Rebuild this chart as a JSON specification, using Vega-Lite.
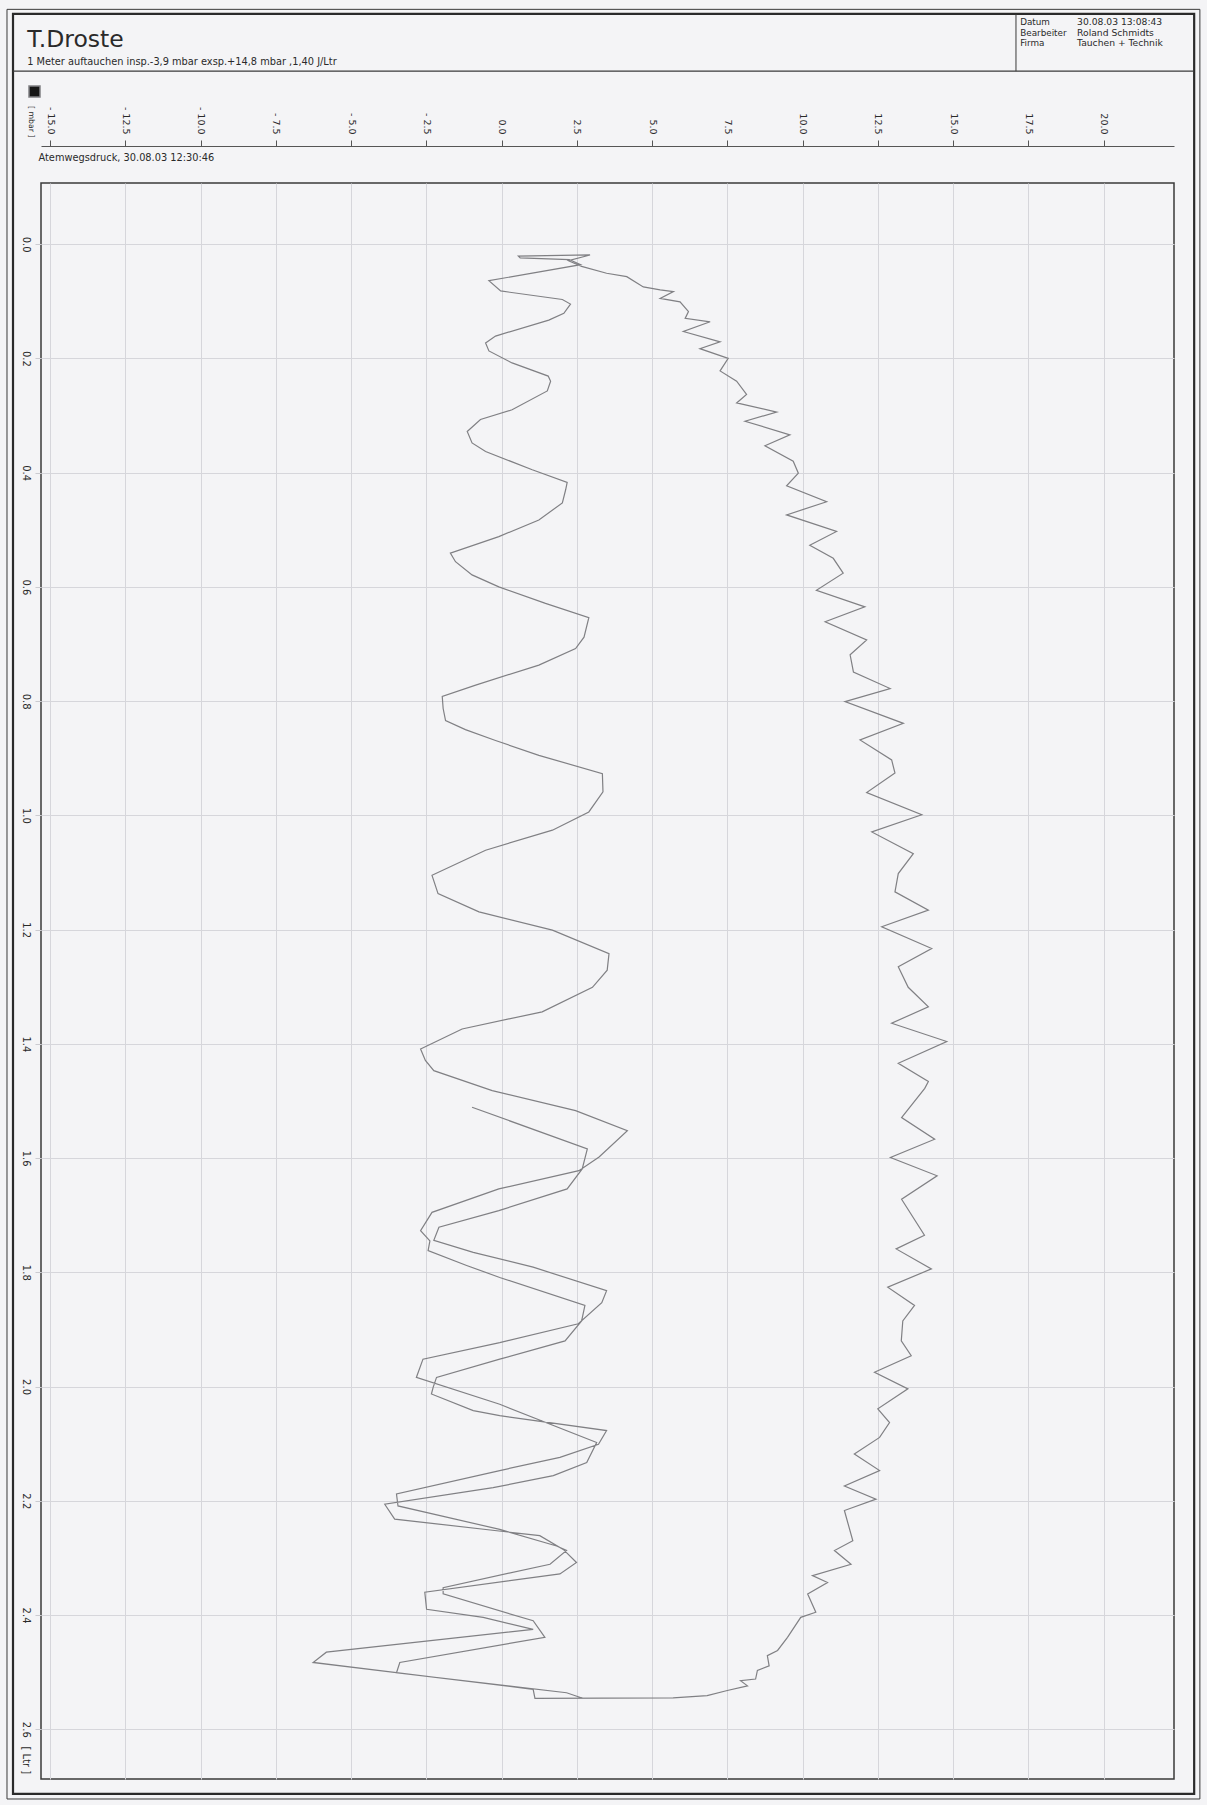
{
  "$schema": "https://vega.github.io/schema/vega-lite/v6.json",
  "width": 1133,
  "height": 1596,
  "autosize": {"type": "none"},
  "padding": {"left": 41, "top": 183, "right": 33, "bottom": 26},
  "background": "#f4f4f6",
  "config": {
    "font": "DejaVu Sans",
    "view": {"stroke": "#3a3a3a", "strokeWidth": 1.5},
    "text": {"color": "#2a2a2a", "font": "DejaVu Sans"}
  },
  "datasets": {
    "kurve": [
      {"o":1,"p":-0.98,"v":1.511},{"o":2,"p":2.85,"v":1.584},{"o":3,"p":2.68,"v":1.619},{"o":4,"p":2.18,"v":1.654},{"o":5,"p":-0.09,"v":1.692},{"o":6,"p":-2.08,"v":1.721},{"o":7,"p":-2.25,"v":1.744},{"o":8,"p":-0.94,"v":1.765},{"o":9,"p":1.05,"v":1.791},{"o":10,"p":3.49,"v":1.832},
      {"o":11,"p":3.33,"v":1.853},{"o":12,"p":2.55,"v":1.890},{"o":13,"p":-0.06,"v":1.923},{"o":14,"p":-2.61,"v":1.952},{"o":15,"p":-2.83,"v":1.984},{"o":16,"p":-0.06,"v":2.031},{"o":17,"p":3.16,"v":2.098},{"o":18,"p":2.83,"v":2.133},{"o":19,"p":1.72,"v":2.156},{"o":20,"p":-0.28,"v":2.177},
      {"o":21,"p":-3.88,"v":2.206},{"o":22,"p":-3.55,"v":2.232},{"o":23,"p":1.27,"v":2.261},{"o":24,"p":2.05,"v":2.285},{"o":25,"p":2.49,"v":2.308},{"o":26,"p":1.94,"v":2.328},{"o":27,"p":-2.55,"v":2.360},{"o":28,"p":-2.49,"v":2.390},{"o":29,"p":-0.61,"v":2.404},{"o":30,"p":1.05,"v":2.425},
      {"o":31,"p":-5.82,"v":2.465},{"o":32,"p":-6.26,"v":2.483},{"o":33,"p":1.05,"v":2.530},{"o":34,"p":1.11,"v":2.546},{"o":35,"p":5.70,"v":2.545},{"o":36,"p":6.83,"v":2.541},{"o":37,"p":7.50,"v":2.532},{"o":38,"p":8.17,"v":2.524},{"o":39,"p":7.94,"v":2.515},{"o":40,"p":8.44,"v":2.512},
      {"o":41,"p":8.50,"v":2.497},{"o":42,"p":8.89,"v":2.489},{"o":43,"p":8.83,"v":2.471},{"o":44,"p":9.17,"v":2.462},{"o":45,"p":9.50,"v":2.439},{"o":46,"p":9.94,"v":2.404},{"o":47,"p":10.44,"v":2.395},{"o":48,"p":10.17,"v":2.363},{"o":49,"p":10.83,"v":2.343},{"o":50,"p":10.33,"v":2.331},
      {"o":51,"p":11.61,"v":2.311},{"o":52,"p":11.06,"v":2.287},{"o":53,"p":11.67,"v":2.270},{"o":54,"p":11.39,"v":2.217},{"o":55,"p":12.44,"v":2.197},{"o":56,"p":11.39,"v":2.174},{"o":57,"p":12.56,"v":2.147},{"o":58,"p":11.72,"v":2.118},{"o":59,"p":12.56,"v":2.089},{"o":60,"p":12.89,"v":2.063},
      {"o":61,"p":12.50,"v":2.039},{"o":62,"p":13.50,"v":2.004},{"o":63,"p":12.39,"v":1.975},{"o":64,"p":13.61,"v":1.946},{"o":65,"p":13.28,"v":1.920},{"o":66,"p":13.33,"v":1.885},{"o":67,"p":13.72,"v":1.858},{"o":68,"p":12.83,"v":1.826},{"o":69,"p":14.28,"v":1.794},{"o":70,"p":13.11,"v":1.759},
      {"o":71,"p":14.05,"v":1.735},{"o":72,"p":13.29,"v":1.672},{"o":73,"p":14.47,"v":1.631},{"o":74,"p":12.92,"v":1.599},{"o":75,"p":14.39,"v":1.567},{"o":76,"p":13.29,"v":1.529},{"o":77,"p":14.06,"v":1.478},{"o":78,"p":14.18,"v":1.466},{"o":79,"p":13.18,"v":1.434},{"o":80,"p":14.79,"v":1.396},
      {"o":81,"p":12.96,"v":1.364},{"o":82,"p":14.18,"v":1.335},{"o":83,"p":13.51,"v":1.301},{"o":84,"p":13.18,"v":1.265},{"o":85,"p":14.29,"v":1.233},{"o":86,"p":12.63,"v":1.195},{"o":87,"p":14.18,"v":1.166},{"o":88,"p":13.07,"v":1.134},{"o":89,"p":13.18,"v":1.102},{"o":90,"p":13.68,"v":1.067},
      {"o":91,"p":12.30,"v":1.029},{"o":92,"p":13.96,"v":0.999},{"o":93,"p":12.13,"v":0.960},{"o":94,"p":13.07,"v":0.926},{"o":95,"p":12.96,"v":0.903},{"o":96,"p":11.91,"v":0.868},{"o":97,"p":13.35,"v":0.839},{"o":98,"p":11.41,"v":0.801},{"o":99,"p":12.91,"v":0.778},{"o":100,"p":11.69,"v":0.749},
      {"o":101,"p":11.58,"v":0.719},{"o":102,"p":12.13,"v":0.693},{"o":103,"p":10.75,"v":0.661},{"o":104,"p":12.07,"v":0.635},{"o":105,"p":10.46,"v":0.606},{"o":106,"p":11.35,"v":0.576},{"o":107,"p":11.02,"v":0.550},{"o":108,"p":10.24,"v":0.527},{"o":109,"p":11.13,"v":0.503},{"o":110,"p":9.47,"v":0.474},
      {"o":111,"p":10.80,"v":0.451},{"o":112,"p":9.47,"v":0.423},{"o":113,"p":9.86,"v":0.401},{"o":114,"p":9.69,"v":0.380},{"o":115,"p":8.75,"v":0.353},{"o":116,"p":9.58,"v":0.334},{"o":117,"p":8.09,"v":0.310},{"o":118,"p":9.14,"v":0.294},{"o":119,"p":7.81,"v":0.278},{"o":120,"p":8.14,"v":0.263},
      {"o":121,"p":7.81,"v":0.240},{"o":122,"p":7.26,"v":0.222},{"o":123,"p":7.53,"v":0.200},{"o":124,"p":6.59,"v":0.183},{"o":125,"p":7.26,"v":0.171},{"o":126,"p":6.04,"v":0.153},{"o":127,"p":6.93,"v":0.136},{"o":128,"p":6.10,"v":0.130},{"o":129,"p":6.21,"v":0.118},{"o":130,"p":5.93,"v":0.101},
      {"o":131,"p":5.27,"v":0.095},{"o":132,"p":5.71,"v":0.083},{"o":133,"p":5.27,"v":0.080},{"o":134,"p":4.71,"v":0.075},{"o":135,"p":4.16,"v":0.057},{"o":136,"p":3.49,"v":0.051},{"o":137,"p":2.66,"v":0.039},{"o":138,"p":2.22,"v":0.029},{"o":139,"p":2.94,"v":0.019},{"o":140,"p":0.56,"v":0.021},
      {"o":141,"p":0.62,"v":0.024},{"o":142,"p":2.25,"v":0.027},{"o":143,"p":2.63,"v":0.036},{"o":144,"p":-0.42,"v":0.064},{"o":145,"p":-0.03,"v":0.082},{"o":146,"p":2.02,"v":0.097},{"o":147,"p":2.29,"v":0.105},{"o":148,"p":2.07,"v":0.121},{"o":149,"p":1.57,"v":0.133},{"o":150,"p":-0.20,"v":0.161},
      {"o":151,"p":-0.53,"v":0.173},{"o":152,"p":-0.42,"v":0.187},{"o":153,"p":0.35,"v":0.208},{"o":154,"p":1.55,"v":0.231},{"o":155,"p":1.63,"v":0.240},{"o":156,"p":1.52,"v":0.257},{"o":157,"p":0.35,"v":0.290},{"o":158,"p":-0.70,"v":0.307},{"o":159,"p":-1.14,"v":0.328},{"o":160,"p":-0.98,"v":0.348},
      {"o":161,"p":-0.53,"v":0.363},{"o":162,"p":1.02,"v":0.395},{"o":163,"p":2.18,"v":0.417},{"o":164,"p":2.13,"v":0.430},{"o":165,"p":2.02,"v":0.453},{"o":166,"p":1.24,"v":0.483},{"o":167,"p":-0.09,"v":0.512},{"o":168,"p":-1.70,"v":0.541},{"o":169,"p":-1.53,"v":0.556},{"o":170,"p":-0.98,"v":0.579},
      {"o":171,"p":-0.09,"v":0.600},{"o":172,"p":1.46,"v":0.629},{"o":173,"p":2.90,"v":0.654},{"o":174,"p":2.74,"v":0.688},{"o":175,"p":2.46,"v":0.708},{"o":176,"p":1.24,"v":0.737},{"o":177,"p":-0.86,"v":0.772},{"o":178,"p":-1.97,"v":0.792},{"o":179,"p":-1.94,"v":0.813},{"o":180,"p":-1.86,"v":0.834},
      {"o":181,"p":-1.20,"v":0.850},{"o":182,"p":-0.20,"v":0.869},{"o":183,"p":1.24,"v":0.895},{"o":184,"p":3.35,"v":0.927},{"o":185,"p":3.37,"v":0.959},{"o":186,"p":2.90,"v":0.994},{"o":187,"p":1.69,"v":1.026},{"o":188,"p":-0.53,"v":1.061},{"o":189,"p":-2.31,"v":1.105},{"o":190,"p":-2.11,"v":1.137},
      {"o":191,"p":-0.75,"v":1.169},{"o":192,"p":1.69,"v":1.201},{"o":193,"p":3.57,"v":1.242},{"o":194,"p":3.51,"v":1.271},{"o":195,"p":3.02,"v":1.301},{"o":196,"p":1.35,"v":1.344},{"o":197,"p":-1.31,"v":1.374},{"o":198,"p":-2.69,"v":1.409},{"o":199,"p":-2.53,"v":1.429},{"o":200,"p":-2.25,"v":1.447},
      {"o":201,"p":-0.31,"v":1.482},{"o":202,"p":2.46,"v":1.517},{"o":203,"p":4.18,"v":1.552},{"o":204,"p":3.24,"v":1.598},{"o":205,"p":2.57,"v":1.622},{"o":206,"p":-0.09,"v":1.654},{"o":207,"p":-2.31,"v":1.695},{"o":208,"p":-2.69,"v":1.727},{"o":209,"p":-2.38,"v":1.745},{"o":210,"p":-2.44,"v":1.762},
      {"o":211,"p":-1.16,"v":1.788},{"o":212,"p":-0.06,"v":1.809},{"o":213,"p":2.77,"v":1.858},{"o":214,"p":2.66,"v":1.885},{"o":215,"p":2.11,"v":1.920},{"o":216,"p":-0.06,"v":1.952},{"o":217,"p":-2.16,"v":1.984},{"o":218,"p":-2.27,"v":2.001},{"o":219,"p":-2.33,"v":2.013},{"o":220,"p":-0.94,"v":2.042},
      {"o":221,"p":-0.06,"v":2.051},{"o":222,"p":3.49,"v":2.077},{"o":223,"p":3.22,"v":2.101},{"o":224,"p":1.94,"v":2.124},{"o":225,"p":-0.06,"v":2.147},{"o":226,"p":-3.49,"v":2.188},{"o":227,"p":-3.44,"v":2.209},{"o":228,"p":-0.06,"v":2.250},{"o":229,"p":1.83,"v":2.279},{"o":230,"p":2.16,"v":2.287},
      {"o":231,"p":1.61,"v":2.311},{"o":232,"p":-1.94,"v":2.352},{"o":233,"p":-1.94,"v":2.363},{"o":234,"p":1.05,"v":2.410},{"o":235,"p":1.44,"v":2.439},{"o":236,"p":-3.38,"v":2.483},{"o":237,"p":-3.49,"v":2.501},{"o":238,"p":2.16,"v":2.536},{"o":239,"p":2.72,"v":2.546}
    ]
  },
  "layer": [
    {
      "data": {"name": "kurve"},
      "mark": {"type": "line", "strokeWidth": 1.2, "clip": true, "strokeJoin": "miter"},
      "encoding": {
        "x": {
          "field": "p", "type": "quantitative",
          "scale": {"domain": [-15.3, 22.34], "nice": false, "zero": false},
          "axis": {
            "orient": "top", "offset": 37,
            "values": [-15, -12.5, -10, -7.5, -5, -2.5, 0, 2.5, 5, 7.5, 10, 12.5, 15, 17.5, 20],
            "labelExpr": "(datum.value < 0 ? '- ' : '') + format(abs(datum.value), '.1f')",
            "labelAngle": 90, "labelAlign": "right", "labelBaseline": "middle",
            "labelFont": "DejaVu Sans", "labelFontSize": 9.5, "labelColor": "#2a2a2a",
            "labelPadding": 6, "labelFlush": false, "labelOverlap": false, "labelBound": false,
            "tickSize": 6, "tickColor": "#555", "domainColor": "#555", "domainWidth": 1,
            "grid": true, "gridColor": "#d6d6db", "gridWidth": 1,
            "title": "Atemwegsdruck, 30.08.03 12:30:46",
            "titleFont": "DejaVu Sans", "titleFontSize": 9.8, "titleFontWeight": "normal", "titleColor": "#2a2a2a",
            "titleAngle": 0, "titleAlign": "left", "titleBaseline": "middle",
            "titleX": -3, "titleY": 11
          }
        },
        "y": {
          "field": "v", "type": "quantitative",
          "scale": {"domain": [-0.107, 2.687], "nice": false, "zero": false, "reverse": true},
          "axis": {
            "orient": "left",
            "values": [0, 0.2, 0.4, 0.6, 0.8, 1.0, 1.2, 1.4, 1.6, 1.8, 2.0, 2.2, 2.4, 2.6],
            "format": ".1f",
            "labelAngle": 90, "labelAlign": "center", "labelBaseline": "top",
            "labelFont": "DejaVu Sans", "labelFontSize": 10, "labelColor": "#2a2a2a",
            "labelPadding": 5, "labelFlush": false, "labelOverlap": false, "labelBound": false,
            "tickSize": 6, "tickColor": "#cbcbd0", "domain": false,
            "grid": true, "gridColor": "#d6d6db", "gridWidth": 1,
            "title": "[ Ltr ]",
            "titleFont": "DejaVu Sans", "titleFontSize": 10, "titleFontWeight": "normal", "titleColor": "#2a2a2a",
            "titleAngle": 90, "titleAlign": "left", "titleBaseline": "middle",
            "titleX": -16, "titleY": 1563
          }
        },
        "order": {"field": "o", "type": "quantitative"},
        "color": {
          "datum": "Atemwegsdruck",
          "scale": {"range": ["#808084"]},
          "legend": {
            "orient": "none", "legendX": -13, "legendY": -98,
            "title": null, "padding": 0, "offset": 0,
            "symbolType": "square", "symbolSize": 121, "labelExpr": "''",
            "encode": {"symbols": {"update": {"fill": {"value": "#161616"}, "stroke": {"value": "#161616"}, "shape": {"value": "square"}}}}
          }
        }
      }
    },
    {
      "data": {"values": [{}]},
      "mark": {"type": "rect", "fillOpacity": 0, "stroke": "#3a3a3a", "strokeWidth": 1},
      "encoding": {
        "x": {"datum": -16.43, "type": "quantitative"}, "x2": {"datum": 23.2},
        "y": {"datum": -0.411, "type": "quantitative"}, "y2": {"datum": 2.722}
      }
    },
    {
      "data": {"values": [{}]},
      "mark": {"type": "rect", "fillOpacity": 0, "stroke": "#2a2a2a", "strokeWidth": 2.2},
      "encoding": {
        "x": {"datum": -16.23, "type": "quantitative"}, "x2": {"datum": 23.01},
        "y": {"datum": -0.403, "type": "quantitative"}, "y2": {"datum": 2.713}
      }
    },
    {
      "data": {"values": [{}]},
      "mark": {"type": "rule", "stroke": "#3a3a3a", "strokeWidth": 1.3},
      "encoding": {
        "x": {"datum": -16.23, "type": "quantitative"}, "x2": {"datum": 23.01},
        "y": {"datum": -0.3028, "type": "quantitative"}
      }
    },
    {
      "data": {"values": [{}]},
      "mark": {"type": "rule", "stroke": "#3a3a3a", "strokeWidth": 1},
      "encoding": {
        "x": {"datum": 17.09, "type": "quantitative"},
        "y": {"datum": -0.403, "type": "quantitative"}, "y2": {"datum": -0.3028}
      }
    },
    {
      "data": {"values": [{}]},
      "mark": {"type": "text", "text": "T.Droste", "align": "left", "baseline": "alphabetic", "fontSize": 23.5},
      "encoding": {"x": {"datum": -15.76, "type": "quantitative"}, "y": {"datum": -0.345, "type": "quantitative"}}
    },
    {
      "data": {"values": [{}]},
      "mark": {"type": "text", "text": "1 Meter auftauchen insp.-3,9 mbar exsp.+14,8 mbar ,1,40 J/Ltr", "align": "left", "baseline": "middle", "fontSize": 9.8},
      "encoding": {"x": {"datum": -15.76, "type": "quantitative"}, "y": {"datum": -0.3195, "type": "quantitative"}}
    },
    {
      "data": {"values": [{}]},
      "mark": {"type": "text", "text": ["Datum", "Bearbeiter", "Firma"], "align": "left", "baseline": "top", "fontSize": 8.8, "lineHeight": 10.5},
      "encoding": {"x": {"datum": 17.23, "type": "quantitative"}, "y": {"datum": -0.3956, "type": "quantitative"}}
    },
    {
      "data": {"values": [{}]},
      "mark": {"type": "text", "text": ["30.08.03 13:08:43", "Roland Schmidts", "Tauchen + Technik"], "align": "left", "baseline": "top", "fontSize": 9.2, "lineHeight": 10.5},
      "encoding": {"x": {"datum": 19.12, "type": "quantitative"}, "y": {"datum": -0.3956, "type": "quantitative"}}
    },
    {
      "data": {"values": [{}]},
      "mark": {"type": "text", "text": "[ mbar ]", "angle": 90, "align": "left", "baseline": "middle", "fontSize": 7.8},
      "encoding": {"x": {"datum": -15.63, "type": "quantitative"}, "y": {"datum": -0.242, "type": "quantitative"}}
    }
  ]
}
